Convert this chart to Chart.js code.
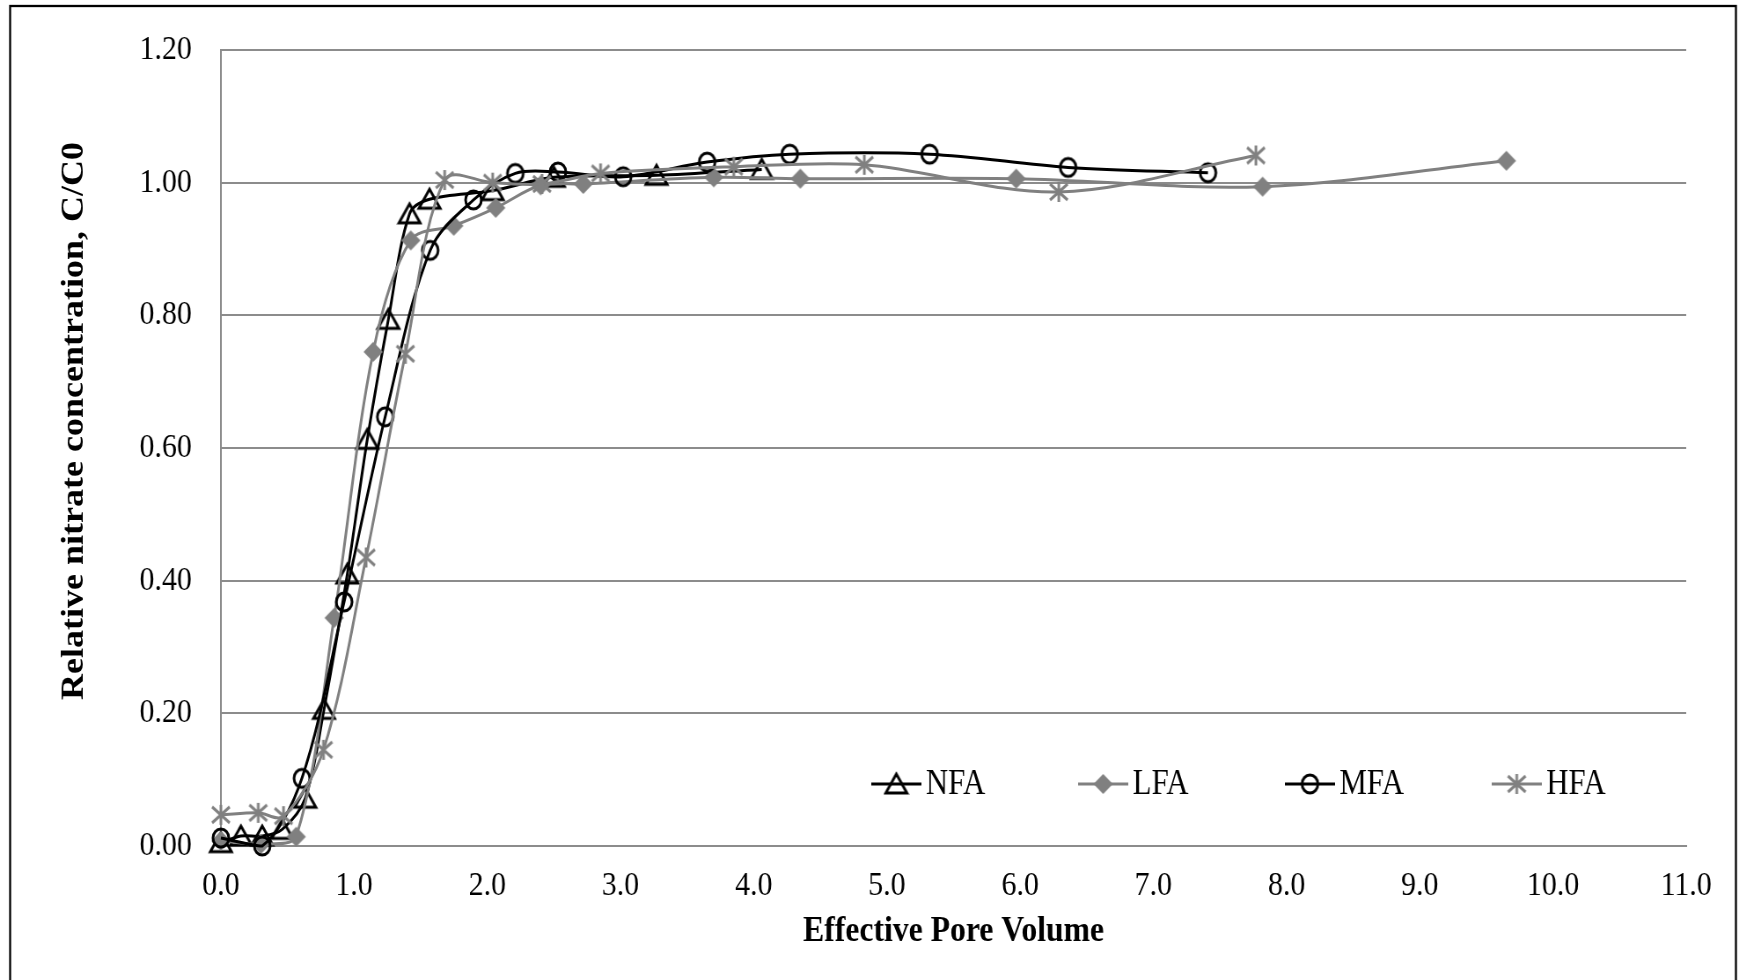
<!DOCTYPE html>
<html>
<head>
<meta charset="utf-8">
<script src="https://cdn.jsdelivr.net/npm/chart.js@4"></script>
<style>
  html, body { margin: 0; padding: 0; background: #fff; overflow: hidden; }
  /* the figure is drawn wide and condensed horizontally, like the exported original */
  canvas { display: block; transform: scaleX(0.88006); transform-origin: 0 0; }
</style>
</head>
<body>
<canvas id="chart" width="1976" height="980"></canvas>
<script>
// breakthrough curves: effective pore volume vs relative nitrate concentration
const seriesNames = ['NFA', 'LFA', 'MFA', 'HFA'];

const nfaPoints = [
  [0.0, 0.005], [0.15, 0.015], [0.31, 0.015], [0.46, 0.025], [0.633, 0.072],
  [0.774, 0.206], [0.949, 0.41], [1.099, 0.613], [1.257, 0.794], [1.416, 0.953],
  [1.566, 0.975], [2.04, 0.988], [2.5, 1.008], [3.27, 1.011], [4.06, 1.02]
];
const lfaPoints = [
  [0.0, 0.008], [0.3, 0.003], [0.565, 0.014], [0.85, 0.344], [1.143, 0.745],
  [1.425, 0.913], [1.748, 0.935], [2.063, 0.962], [2.4, 0.996], [2.72, 0.998],
  [3.7, 1.008], [4.35, 1.006], [5.97, 1.006], [7.82, 0.994], [9.65, 1.033]
];
const mfaPoints = [
  [0.0, 0.012], [0.31, 0.0], [0.608, 0.102], [0.925, 0.368], [1.233, 0.647],
  [1.571, 0.898], [1.896, 0.974], [2.21, 1.014], [2.53, 1.016], [3.02, 1.009],
  [3.65, 1.031], [4.27, 1.043], [5.32, 1.043], [6.36, 1.023], [7.41, 1.015]
];
const hfaPoints = [
  [0.0, 0.047], [0.28, 0.05], [0.47, 0.045], [0.77, 0.145], [1.09, 0.435],
  [1.385, 0.742], [1.68, 1.004], [2.04, 1.0], [2.41, 0.998], [2.85, 1.014],
  [3.85, 1.024], [4.83, 1.027], [6.29, 0.986], [7.77, 1.041]
];

const xTicks = [0, 1, 2, 3, 4, 5, 6, 7, 8, 9, 10, 11];
const yTicks = [0, 0.2, 0.4, 0.6, 0.8, 1.0, 1.2];

const xTitle = 'Effective Pore Volume';
const yTitle = 'Relative nitrate concentration, C/C0';

const BLACK = '#000000';
const GREY = '#808080';
const GRID = '#8c8c8c';
const FONT = "'Liberation Serif', 'Times New Roman', serif";

// marker sprites, reused by the legend
function sprite(draw) {
  const c = document.createElement('canvas');
  c.width = 30; c.height = 30;
  const g = c.getContext('2d');
  g.lineWidth = 3;
  draw(g);
  return c;
}
const triangle = sprite(g => {
  g.strokeStyle = BLACK;
  g.beginPath();
  g.moveTo(15, 5); g.lineTo(27, 24); g.lineTo(3, 24); g.closePath();
  g.stroke();
});
const diamond = sprite(g => {
  g.fillStyle = GREY;
  g.beginPath();
  g.moveTo(15, 5); g.lineTo(26, 15); g.lineTo(15, 25); g.lineTo(4, 15); g.closePath();
  g.fill();
});
const circle = sprite(g => {
  g.strokeStyle = BLACK;
  g.beginPath();
  g.arc(15, 15, 9, 0, Math.PI * 2);
  g.stroke();
});
const star = sprite(g => {
  g.strokeStyle = GREY;
  g.beginPath();
  g.moveTo(15, 5); g.lineTo(15, 25);
  g.moveTo(5, 7); g.lineTo(25, 23);
  g.moveTo(25, 7); g.lineTo(5, 23);
  g.stroke();
});

function toXY(points) {
  return points.map(p => ({ x: p[0], y: p[1] }));
}

function series(name, points, color, marker, order) {
  return {
    label: name,
    data: toXY(points),
    borderColor: color,
    backgroundColor: color,
    borderWidth: 3,
    pointStyle: marker,
    pointRadius: 10,
    tension: 0.33,
    clip: false,
    order: order
  };
}

// legend sits inside the plot, bottom right, line + marker + name
const insideLegend = {
  id: 'insideLegend',
  afterDraw(chart) {
    const { ctx, chartArea } = chart;
    const y = chartArea.bottom - 62;
    ctx.save();
    ctx.font = '35px ' + FONT;
    ctx.textBaseline = 'middle';
    ctx.textAlign = 'left';
    chart.data.datasets.forEach((ds, i) => {
      const x0 = chartArea.left + 739 + i * 235;
      ctx.strokeStyle = ds.borderColor;
      ctx.lineWidth = 3;
      ctx.beginPath();
      ctx.moveTo(x0, y); ctx.lineTo(x0 + 57, y);
      ctx.stroke();
      const m = ds.pointStyle;
      ctx.drawImage(m, x0 + 28.5 - m.width / 2, y - m.height / 2);
      ctx.fillStyle = BLACK;
      ctx.fillText(ds.label, x0 + 62, y + 1);
    });
    ctx.restore();
  }
};

// y axis title sits a little above the middle of the axis
const yAxisTitle = {
  id: 'yAxisTitle',
  afterDraw(chart) {
    const ctx = chart.ctx;
    ctx.save();
    ctx.translate(85, 421);
    ctx.rotate(-Math.PI / 2);
    ctx.font = 'bold 36px ' + FONT;
    ctx.fillStyle = BLACK;
    ctx.textAlign = 'center';
    ctx.textBaseline = 'middle';
    ctx.fillText(yTitle, 0, 0);
    ctx.restore();
  }
};

// black frame round the whole figure
const frame = {
  id: 'frame',
  afterDraw(chart) {
    const ctx = chart.ctx;
    ctx.save();
    ctx.strokeStyle = BLACK;
    ctx.lineWidth = 2.3;
    ctx.strokeRect(11.5, 6, 1961, 990);
    ctx.restore();
  }
};

new Chart(document.getElementById('chart'), {
  type: 'line',
  data: {
    datasets: [
      series(seriesNames[0], nfaPoints, BLACK, triangle, 4),
      series(seriesNames[1], lfaPoints, GREY, diamond, 3),
      series(seriesNames[2], mfaPoints, BLACK, circle, 2),
      series(seriesNames[3], hfaPoints, GREY, star, 1)
    ]
  },
  options: {
    responsive: false,
    animation: false,
    devicePixelRatio: 1,
    layout: { padding: { left: 0, right: 60, top: 50, bottom: 0 } },
    plugins: {
      legend: { display: false },
      tooltip: { enabled: false }
    },
    scales: {
      x: {
        type: 'linear',
        min: xTicks[0],
        max: xTicks[xTicks.length - 1],
        afterFit(s) { s.height = 134; },
        afterBuildTicks(s) { s.ticks = xTicks.map(v => ({ value: v })); },
        ticks: {
          callback: v => v.toFixed(1),
          color: BLACK,
          font: { family: FONT, size: 34 },
          padding: 20,
          maxRotation: 0,
          autoSkip: false
        },
        grid: { display: false, drawTicks: false },
        border: { display: true, color: GRID, width: 2 },
        title: {
          display: true,
          text: xTitle,
          color: BLACK,
          font: { family: FONT, size: 36, weight: 'bold' },
          padding: { top: 0, bottom: 27 }
        }
      },
      y: {
        min: yTicks[0],
        max: yTicks[yTicks.length - 1],
        afterFit(s) {
          s.width = 251;
          // tick padding would otherwise push the plot top down
          s.paddingTop = 20;
          s.paddingBottom = 20;
        },
        afterBuildTicks(s) { s.ticks = yTicks.map(v => ({ value: v })); },
        ticks: {
          callback: v => v.toFixed(2),
          color: BLACK,
          font: { family: FONT, size: 34 },
          padding: 33
        },
        grid: { color: GRID, lineWidth: 2, drawTicks: false },
        border: { display: true, color: GRID, width: 2 },
        title: { display: false }
      }
    }
  },
  plugins: [insideLegend, yAxisTitle, frame]
});
</script>
</body>
</html>
